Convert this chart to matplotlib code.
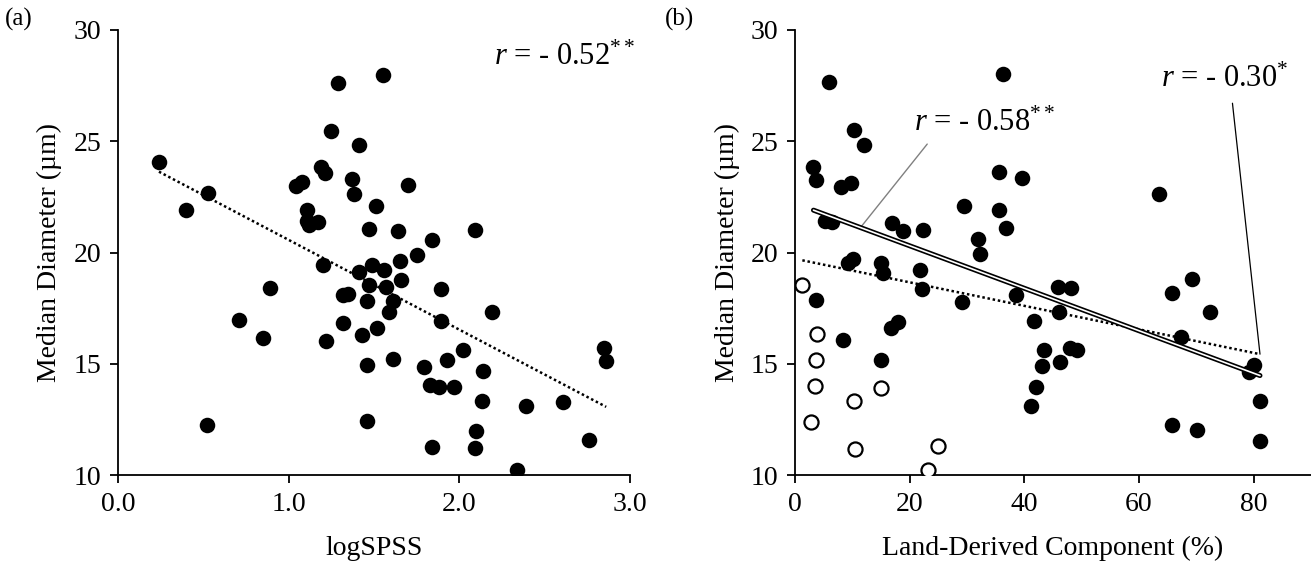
"""Median diameter vs logSPSS and land-derived component, two scatter panels."""
import numpy as np
import matplotlib
matplotlib.use("Agg")
import matplotlib.pyplot as plt

plt.rcParams["font.family"] = ["Liberation Serif", "DejaVu Serif"]
plt.rcParams["mathtext.fontset"] = "custom"
plt.rcParams["mathtext.rm"] = "Liberation Serif"
plt.rcParams["mathtext.it"] = "Liberation Serif:italic"

# panel (a): logSPSS vs median diameter
log_spss = [0.24, 0.40, 0.53, 0.52, 0.71, 0.85, 0.89, 1.04, 1.08, 1.11, 1.11, 1.12,
            1.17, 1.19, 1.21, 1.20, 1.22, 1.25, 1.29, 1.32, 1.35, 1.32, 1.37, 1.38,
            1.41, 1.41, 1.43, 1.46, 1.46, 1.46, 1.47, 1.47, 1.49, 1.51, 1.52, 1.55,
            1.56, 1.57, 1.59, 1.61, 1.61, 1.64, 1.65, 1.66, 1.70, 1.75, 1.79, 1.83,
            1.84, 1.84, 1.88, 1.89, 1.89, 1.93, 1.97, 2.02, 2.09, 2.10, 2.09, 2.13,
            2.14, 2.19, 2.34, 2.39, 2.61, 2.76, 2.85, 2.86]
diam_a = [24.07, 21.93, 22.68, 12.27, 16.96, 16.15, 18.39, 22.99, 23.18, 21.92, 21.40, 21.23,
          21.36, 23.83, 23.59, 19.42, 16.02, 25.45, 27.60, 18.10, 18.15, 16.83, 23.29, 22.61,
          24.81, 19.11, 16.28, 17.82, 14.94, 12.42, 21.04, 18.52, 19.45, 22.08, 16.61, 27.99,
          19.22, 18.47, 17.32, 17.82, 15.21, 20.96, 19.63, 18.78, 23.05, 19.90, 14.87, 14.03,
          20.58, 11.27, 13.96, 18.36, 16.92, 15.15, 13.94, 15.62, 21.01, 12.00, 11.23, 13.31,
          14.66, 17.31, 10.24, 13.12, 13.26, 11.56, 15.71, 15.11]

# panel (b): land-derived component (%), filled and open samples
land_filled = [5.95, 3.2, 3.65, 5.2, 6.47, 3.65, 7.96, 9.67, 9.3, 10.1, 10.34, 12.05,
               8.4, 14.96, 15.33, 14.96, 16.96, 18.82, 16.8, 18.0, 21.7, 22.25, 22.17,
               29.39, 29.17, 31.92, 32.22, 36.3, 35.64, 35.57, 36.83, 39.58, 38.62, 41.74,
               41.22, 42.1, 43.45, 43.15, 45.83, 46.06, 46.2, 48.2, 47.99, 49.1, 63.4,
               65.77, 65.77, 67.4, 69.27, 70.16, 72.4, 79.2, 80.1, 81.1, 81.1]
diam_filled = [27.65, 23.83, 23.24, 21.40, 21.37, 17.88, 22.96, 23.11, 19.51, 19.71, 25.52, 24.82,
               16.08, 19.54, 19.10, 15.18, 21.32, 20.96, 16.60, 16.86, 19.23, 21.03, 18.36,
               22.10, 17.79, 20.60, 19.95, 28.01, 23.62, 21.92, 21.09, 23.37, 18.11, 16.92,
               13.11, 13.94, 15.62, 14.92, 18.47, 17.31, 15.10, 18.40, 15.72, 15.64, 22.65,
               18.19, 12.26, 16.19, 18.83, 12.04, 17.31, 14.64, 14.94, 13.31, 11.52]
land_open = [1.26, 3.8, 3.72, 3.42, 2.75, 10.19, 10.49, 14.96, 23.21, 25.0]
diam_open = [18.52, 16.32, 15.18, 14.02, 12.38, 13.31, 11.19, 13.93, 10.21, 11.29]

FS = 20
FS_R = 22
DOT = 125


def style_axes(ax):
    for side in ("top", "right"):
        ax.spines[side].set_visible(False)
    for side in ("left", "bottom"):
        ax.spines[side].set_linewidth(1.3)
    ax.tick_params(direction="out", length=6, width=1.3, labelsize=FS, pad=6)
    ax.set_ylim(10, 30)
    ax.set_yticks([10, 15, 20, 25, 30])
    ax.set_ylabel("Median Diameter (\u00b5m)", fontsize=FS, labelpad=8)


def fit_line(x, y):
    x = np.asarray(x)
    k, b = np.polyfit(x, np.asarray(y), 1)
    xs = np.array([x.min(), x.max()])
    return xs, k * xs + b, (k, b)


fig = plt.figure(figsize=(13.11, 5.68), dpi=100)
ax1 = fig.add_axes([0.0900, 0.1637, 0.3906, 0.7835])
ax2 = fig.add_axes([0.6065, 0.1637, 0.3935, 0.7835])

# (a)
ax1.scatter(log_spss, diam_a, s=DOT, c="black", zorder=3, linewidths=0)
xs, ys, _ = fit_line(log_spss, diam_a)
ax1.plot(xs, ys, color="black", lw=1.8, dashes=(1, 1.1), zorder=2)
ax1.set_xlim(0, 3.0)
ax1.set_xticks([0, 1, 2, 3])
ax1.set_xticklabels(["0.0", "1.0", "2.0", "3.0"])
ax1.set_xlabel("logSPSS", fontsize=FS, labelpad=14)
style_axes(ax1)
ax1.text(3.03, 28.75, "$r$ = - 0.52$^{**}$", fontsize=FS_R, ha="right", va="center",
         clip_on=False)
fig.text(0.004, 0.965, "(a)", fontsize=18, va="center")

# (b)
ax2.scatter(land_filled, diam_filled, s=DOT, c="black", zorder=3, linewidths=0)
ax2.scatter(land_open, diam_open, s=DOT - 22, facecolors="white", edgecolors="black",
            linewidths=1.6, zorder=3)
land_all = land_filled + land_open
diam_all = diam_filled + diam_open
xs_all, ys_all, (k_all, b_all) = fit_line(land_all, diam_all)
ax2.plot(xs_all, ys_all, color="black", lw=1.8, dashes=(1, 1.1), zorder=4)
xs_f, ys_f, (k_f, b_f) = fit_line(land_filled, diam_filled)
ax2.plot(xs_f, ys_f, color="black", lw=3.6, solid_capstyle="round", zorder=4)
ax2.plot(xs_f, ys_f, color="white", lw=1.2, solid_capstyle="round", zorder=5)
ax2.set_xlim(0, 90)
ax2.set_xticks([0, 20, 40, 60, 80])
ax2.set_xlabel("Land-Derived Component (%)", fontsize=FS, labelpad=14)
style_axes(ax2)

x_lead = 11.4
ax2.annotate("$r$ = - 0.58$^{**}$", xy=(x_lead, k_f * x_lead + b_f), xytext=(33.0, 25.8),
             fontsize=FS_R, ha="center", va="center",
             arrowprops=dict(arrowstyle="-", color="#808080", lw=1.0,
                             relpos=(0.13, 0.0), shrinkA=3, shrinkB=0))
x_end = max(land_all)
ax2.annotate("$r$ = - 0.30$^{*}$", xy=(x_end, k_all * x_end + b_all), xytext=(75.0, 27.8),
             fontsize=FS_R, ha="center", va="center",
             arrowprops=dict(arrowstyle="-", color="black", lw=0.9,
                             relpos=(0.55, 0.0), shrinkA=5, shrinkB=0))
fig.text(0.507, 0.965, "(b)", fontsize=18, va="center")

fig.savefig("out.png", dpi=100)
